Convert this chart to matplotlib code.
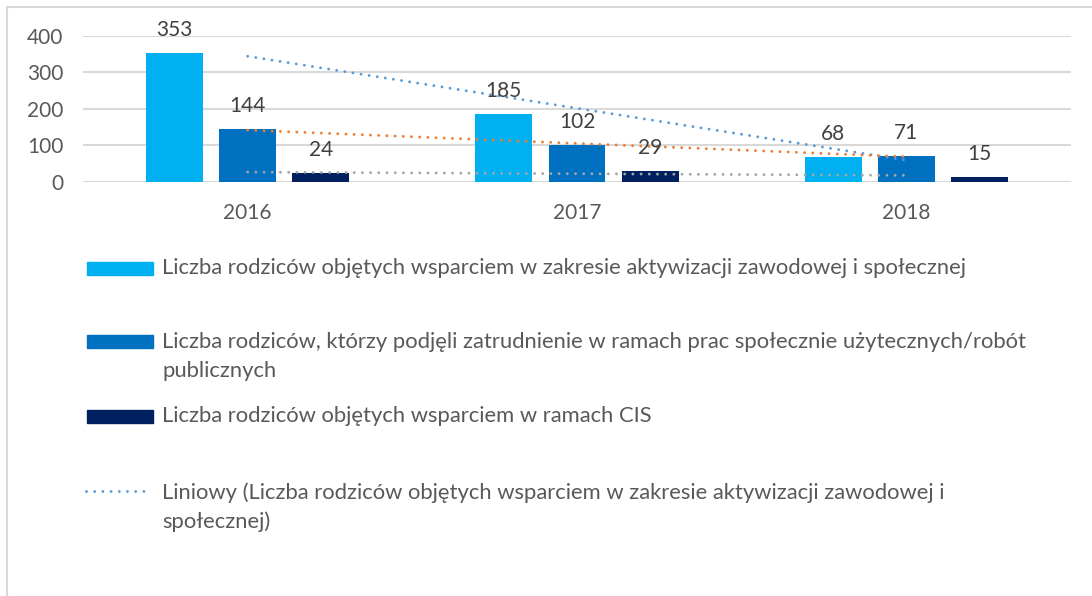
import numpy as np
import matplotlib
matplotlib.use("Agg")
import matplotlib.pyplot as plt
from matplotlib.patches import Rectangle
from matplotlib.lines import Line2D

years = ["2016", "2017", "2018"]
series_names = [
    "Liczba rodziców objętych wsparciem w zakresie aktywizacji zawodowej i społecznej",
    "Liczba rodziców, którzy podjęli zatrudnienie w ramach prac społecznie użytecznych/robót\npublicznych",
    "Liczba rodziców objętych wsparciem w ramach CIS",
]
trend_label = "Liniowy (Liczba rodziców objętych wsparciem w zakresie aktywizacji zawodowej i\nspołecznej)"
s1 = [353, 185, 68]
s2 = [144, 102, 71]
s3 = [24, 29, 15]
yticks = [0, 100, 200, 300, 400]

bar_colors = ["#00B0F0", "#0070C0", "#002060"]
trend_colors = ["#5B9BD5", "#ED7D31", "#A5A5A5"]

W, H = 1092, 596
plt.rcParams["font.family"] = ["Lato", "DejaVu Sans"]
fig = plt.figure(figsize=(W / 100, H / 100), dpi=100)

def fx(x):
    return x / W

def fy(y):
    return 1 - y / H

ax = fig.add_axes([fx(83), fy(182), fx(1071) - fx(83), fy(36) - fy(182)])
x = np.arange(len(years))
offs = [-0.222, 0.0, 0.222]
bw = 0.173
dot = (0, (0.01, 2.8))
for vals, off, c in zip([s1, s2, s3], offs, bar_colors):
    ax.bar(x + off, vals, width=bw, color=c, zorder=2)
    for xi, v in zip(x + off, vals):
        ax.annotate(str(v), (xi, v), xytext=(0, 23), textcoords="offset pixels",
                    ha="center", va="center", fontsize=15, color="#404040", zorder=5)

for vals, c in zip([s1, s2, s3], trend_colors):
    k, b = np.polyfit(x + 1, vals, 1)
    ax.plot(x, k * (x + 1) + b, color=c, lw=2.1, linestyle=dot,
            dash_capstyle="round", zorder=4)

ax.set_xlim(-0.5, 2.5)
ax.set_ylim(0, 400)
ax.set_yticks(yticks)
ax.set_xticks(x)
ax.set_xticklabels(years)
ax.grid(axis="y", color="#D9D9D9", lw=1.5, zorder=0)
ax.set_axisbelow(True)
for sp in ax.spines.values():
    sp.set_visible(False)
ax.tick_params(axis="both", length=0, labelsize=15, labelcolor="#595959")
ax.tick_params(axis="y", pad=14)
ax.tick_params(axis="x", pad=15)

# border
fig.add_artist(Line2D([fx(7), fx(7)], [fy(7), 0], color="#D9D9D9", lw=1.5))
fig.add_artist(Line2D([fx(7), 1], [fy(7), fy(7)], color="#D9D9D9", lw=1.5))

# legend (manual layout)
tcol = "#595959"
entries = [(268, series_names[0], "bar", bar_colors[0]),
           (341, series_names[1], "bar", bar_colors[1]),
           (416, series_names[2], "bar", bar_colors[2]),
           (491, trend_label, "line", trend_colors[0])]
for yc, label, kind, c in entries:
    if kind == "bar":
        fig.add_artist(Rectangle((fx(87), fy(yc + 6.5)), fx(153) - fx(87), fy(yc - 6.5) - fy(yc + 6.5),
                                 color=c, transform=fig.transFigure))
    else:
        fig.add_artist(Line2D([fx(86), fx(148)], [fy(yc), fy(yc)], color=c, lw=2.1,
                              linestyle=dot, dash_capstyle="round"))
    if "\n" in label:
        fig.text(fx(162), fy(yc - 9), label, ha="left", va="top",
                 fontsize=15.8, color=tcol, linespacing=1.55)
    else:
        fig.text(fx(162), fy(yc), label, ha="left", va="center",
                 fontsize=15.8, color=tcol)

fig.savefig("out.png", dpi=100, facecolor="white")
